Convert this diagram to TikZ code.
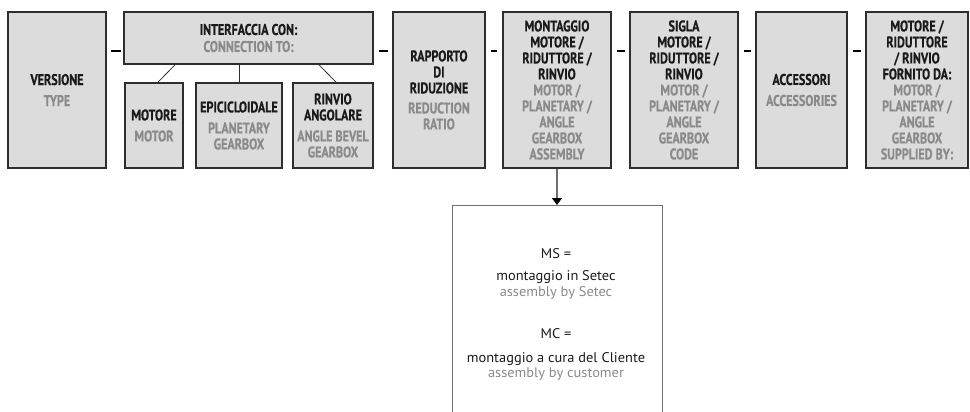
\documentclass[tikz,border=0pt]{standalone}
\usepackage{fontspec}
\setmainfont{PT Sans}
\newfontfamily\condfont[FakeStretch=0.78,BoldFeatures={FakeBold=0.5}]{PT Sans}
\newfontfamily\notefont[FakeStretch=1.03]{PT Sans}
\usetikzlibrary{arrows.meta}
\definecolor{boxfill}{HTML}{DCDCDC}
\definecolor{boxline}{HTML}{2E2E2E}
\definecolor{engtxt}{HTML}{8A8A8A}
\definecolor{maintxt}{HTML}{1A1A1A}
\definecolor{noteline}{HTML}{707070}
\newcommand{\eng}[1]{\textcolor{engtxt}{#1}}
\tikzstyle{field} = [draw=boxline, fill=boxfill, line width=1.6pt, inner sep=0pt, align=center, text=maintxt, font={\condfont\bfseries\fontsize{15.5}{16}\selectfont}]
\tikzstyle{tall} = [field, minimum height=156pt]
\tikzstyle{sub} = [field, minimum height=85pt]
\tikzstyle{joint} = [draw=black, line width=1.5pt]
\tikzstyle{branch} = [draw=boxline, line width=0.8pt]
\tikzstyle{arr} = [draw=noteline, line width=1.2pt, -{Triangle[length=7pt,width=10pt,color=black]}]
\tikzstyle{notebox} = [draw=noteline, line width=1pt, minimum width=210pt, minimum height=260pt, anchor=north]
\tikzstyle{notetext} = [align=center, inner sep=0pt, anchor=north, text=maintxt, font={\notefont\fontsize{14}{15.5}\selectfont}]

\begin{document}
\begin{tikzpicture}[x=1pt,y=-1pt]
    \useasboundingbox (0,0) rectangle (970,412);
    \clip (0,0) rectangle (970,412);
    % first row
    \node[tall,minimum width=98pt](ver) at (57,90){VERSIONE\\[5pt]\eng{TYPE}};
    \node[field,minimum width=249pt,minimum height=52pt](inter) at (248.5,38){INTERFACCIA CON:\\[1pt]\eng{CONNECTION TO:}};
    \node[sub,minimum width=58pt](mot) at (154,125.5){MOTORE\\[5pt]\eng{MOTOR}};
    \node[sub,minimum width=86pt](epi) at (239,125.5){EPICICLOIDALE\\[5pt]\eng{PLANETARY}\\\eng{GEARBOX}};
    \node[sub,minimum width=80pt](rin) at (333,125.5){RINVIO\\ANGOLARE\\[5pt]\eng{ANGLE BEVEL}\\\eng{GEARBOX}};
    \node[tall,minimum width=92pt](rap) at (439,90){RAPPORTO\\DI\\RIDUZIONE\\[4pt]\eng{REDUCTION}\\\eng{RATIO}};
    \node[tall,minimum width=108pt](mon) at (557,90){MONTAGGIO\\MOTORE /\\RIDUTTORE /\\RINVIO\\\eng{MOTOR /}\\\eng{PLANETARY /}\\\eng{ANGLE}\\\eng{GEARBOX}\\\eng{ASSEMBLY}};
    \node[tall,minimum width=108pt](sig) at (684,90){SIGLA\\MOTORE /\\RIDUTTORE /\\RINVIO\\\eng{MOTOR /}\\\eng{PLANETARY /}\\\eng{ANGLE}\\\eng{GEARBOX}\\\eng{CODE}};
    \node[tall,minimum width=91pt](acc) at (801.5,90){ACCESSORI\\[5pt]\eng{ACCESSORIES}};
    \node[tall,minimum width=102pt](forn) at (917,90){MOTORE /\\RIDUTTORE\\/ RINVIO\\FORNITO DA:\\\eng{MOTOR /}\\\eng{PLANETARY /}\\\eng{ANGLE}\\\eng{GEARBOX}\\\eng{SUPPLIED BY:}};
    % dashes between fields
    \draw[joint]([xshift=4pt,yshift=-40pt]ver.north east) -- ([xshift=-2pt,yshift=-40pt]inter.north west);
    \draw[joint]([xshift=5pt,yshift=-40pt]inter.north east) -- ([xshift=-4pt,yshift=-40pt]rap.north west);
    \draw[joint]([xshift=5pt,yshift=-40pt]rap.north east) -- ([xshift=-5pt,yshift=-40pt]mon.north west);
    \draw[joint]([xshift=5pt,yshift=-40pt]mon.north east) -- ([xshift=-4pt,yshift=-40pt]sig.north west);
    \draw[joint]([xshift=5pt,yshift=-40pt]sig.north east) -- ([xshift=-4pt,yshift=-40pt]acc.north west);
    \draw[joint]([xshift=5pt,yshift=-40pt]acc.north east) -- ([xshift=-4pt,yshift=-40pt]forn.north west);
    % branches of the interface
    \draw[branch]([xshift=-73.5pt]inter.south) -- ([xshift=4pt]mot.north);
    \draw[branch](epi.north) -- (epi.north |- inter.south);
    \draw[branch]([xshift=70.5pt]inter.south) -- ([xshift=3pt]rin.north);
    % assembly note
    \node[notebox](note) at (557,205){};
    \draw[arr](mon.south) -- (note.north);
    \node[notetext](notetxt) at (556,248){MS =\\[7pt]montaggio in Setec\\\eng{assembly by Setec}\\[27pt]MC =\\[8pt]montaggio a cura del Cliente\\\eng{assembly by customer}};
\end{tikzpicture}
\end{document}
